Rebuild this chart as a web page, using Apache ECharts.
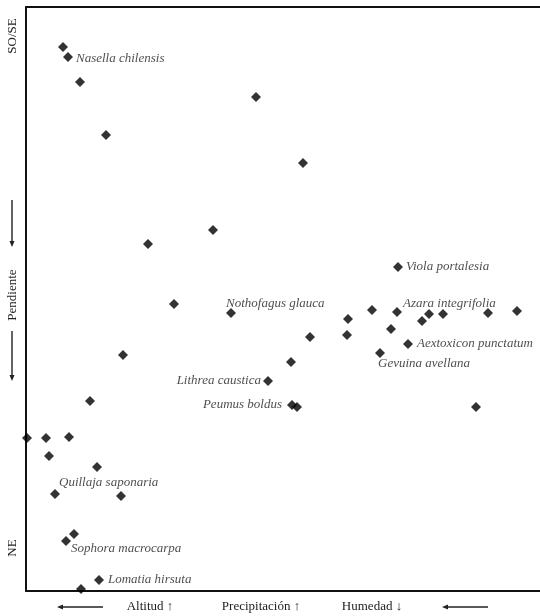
<!DOCTYPE html>
<html>
<head>
<meta charset="utf-8">
<script src="https://cdn.jsdelivr.net/npm/echarts@6/dist/echarts.min.js"></script>
<style>html,body{margin:0;padding:0;background:#fff}#c{width:540px;height:616px}</style>
</head>
<body>
<div id="c"></div>
<script>
// Ordination scores (arbitrary units)
var xValues = [37,42,54,80,230,277,122,187,148,205,97,242,64,372,322,346,371,396,403,417,462,491,284,321,365,382,354,265,266,271,450,1,20,43,23,71,29,95,48,40,73,55];
var yValues = [544,534,509,456,494,428,347,361,287,278,236,210,190,324,272,281,279,270,277,277,278,280,254,256,262,247,238,229,186,184,184,153,153,154,135,124,97,95,57,50,11,2];
var species = ['','Nasella chilensis','','','','','','','','Nothofagus glauca','','Lithrea caustica','','Viola portalesia','','','Azara integrifolia','','','','','','','','','Aextoxicon punctatum','Gevuina avellana','','Peumus boldus','','','','','','','','Quillaja saponaria','','','Sophora macrocarpa','Lomatia hirsuta',''];
var xAxisTexts = ['Altitud \u2191', 'Precipitación \u2191', 'Humedad \u2193'];
var yAxisTexts = ['SO/SE', 'Pendiente', 'NE'];

var labelStyle = {
  'Nasella chilensis': {position:'right', offset:[3,2]},
  'Viola portalesia': {position:'right', offset:[3,0]},
  'Nothofagus glauca': {position:'right', offset:[-10,-9]},
  'Azara integrifolia': {position:'right', offset:[1,-8]},
  'Aextoxicon punctatum': {position:'right', offset:[4,0]},
  'Gevuina avellana': {position:'right', offset:[-7,11]},
  'Lithrea caustica': {position:'left', offset:[-2,0]},
  'Peumus boldus': {position:'left', offset:[-5,0]},
  'Quillaja saponaria': {position:'right', offset:[-1,-11]},
  'Sophora macrocarpa': {position:'right', offset:[0,8]},
  'Lomatia hirsuta': {position:'right', offset:[4,0]}
};

var data = xValues.map(function(x, i){
  var d = {value:[x, yValues[i]], name: species[i]};
  if (species[i]) {
    var s = labelStyle[species[i]];
    d.label = {show:true, position:s.position, distance:0, offset:s.offset, formatter:'{b}'};
  }
  return d;
});

var serif = '"Liberation Serif", "DejaVu Serif", serif';
var txtColor = '#222';

function arrow(x1, y1, x2, y2) {
  var dx = x2 - x1, dy = y2 - y1, len = Math.sqrt(dx*dx+dy*dy);
  var ux = dx/len, uy = dy/len, px = -uy, py = ux, h = 6, w = 2.5;
  return [
    {type:'line', shape:{x1:x1, y1:y1, x2:x2 - ux*h*0.6, y2:y2 - uy*h*0.6}, style:{stroke:'#222', lineWidth:1.4}},
    {type:'polygon', shape:{points:[[x2,y2],[x2-ux*h+px*w, y2-uy*h+py*w],[x2-ux*h-px*w, y2-uy*h-py*w]]}, style:{fill:'#222'}}
  ];
}

var graphics = [];
graphics = graphics.concat(arrow(103, 607, 57, 607));
graphics = graphics.concat(arrow(488, 607, 442, 607));
graphics = graphics.concat(arrow(12, 200, 12, 247));
graphics = graphics.concat(arrow(12, 331, 12, 381));
var xPos = [150, 261, 372];
xAxisTexts.forEach(function(t, i){
  graphics.push({type:'text', x:xPos[i], y:607, style:{text:t, font:'13px ' + serif, fill:txtColor, textAlign:'center', textVerticalAlign:'middle'}});
});
var yPos = [36, 295, 548];
yAxisTexts.forEach(function(t, i){
  graphics.push({type:'text', x:13, y:yPos[i], rotation:Math.PI/2, style:{text:t, font:'13px ' + serif, fill:txtColor, textAlign:'center', textVerticalAlign:'middle'}});
});

var chart = echarts.init(document.getElementById('c'), null, {renderer:'canvas'});
chart.setOption({
  animation:false,
  backgroundColor:'#fff',
  grid:{left:26, right:0, top:7, bottom:25},
  xAxis:[
    {type:'value', min:0, max:514, position:'bottom', axisLine:{show:true, onZero:false, lineStyle:{color:'#111', width:2}}, axisTick:{show:false}, axisLabel:{show:false}, splitLine:{show:false}},
    {type:'value', min:0, max:514, position:'top', axisLine:{show:true, onZero:false, lineStyle:{color:'#111', width:2}}, axisTick:{show:false}, axisLabel:{show:false}, splitLine:{show:false}}
  ],
  yAxis:{type:'value', min:0, max:584, axisLine:{show:true, onZero:false, lineStyle:{color:'#111', width:2}}, axisTick:{show:false}, axisLabel:{show:false}, splitLine:{show:false}},
  series:[{
    type:'scatter',
    clip:false,
    symbol:'diamond',
    symbolSize:10,
    itemStyle:{color:'#000'},
    label:{show:false, fontFamily:serif, fontStyle:'italic', fontSize:13, color:txtColor},
    data:data
  }],
  graphic:graphics
});
</script>
</body>
</html>
